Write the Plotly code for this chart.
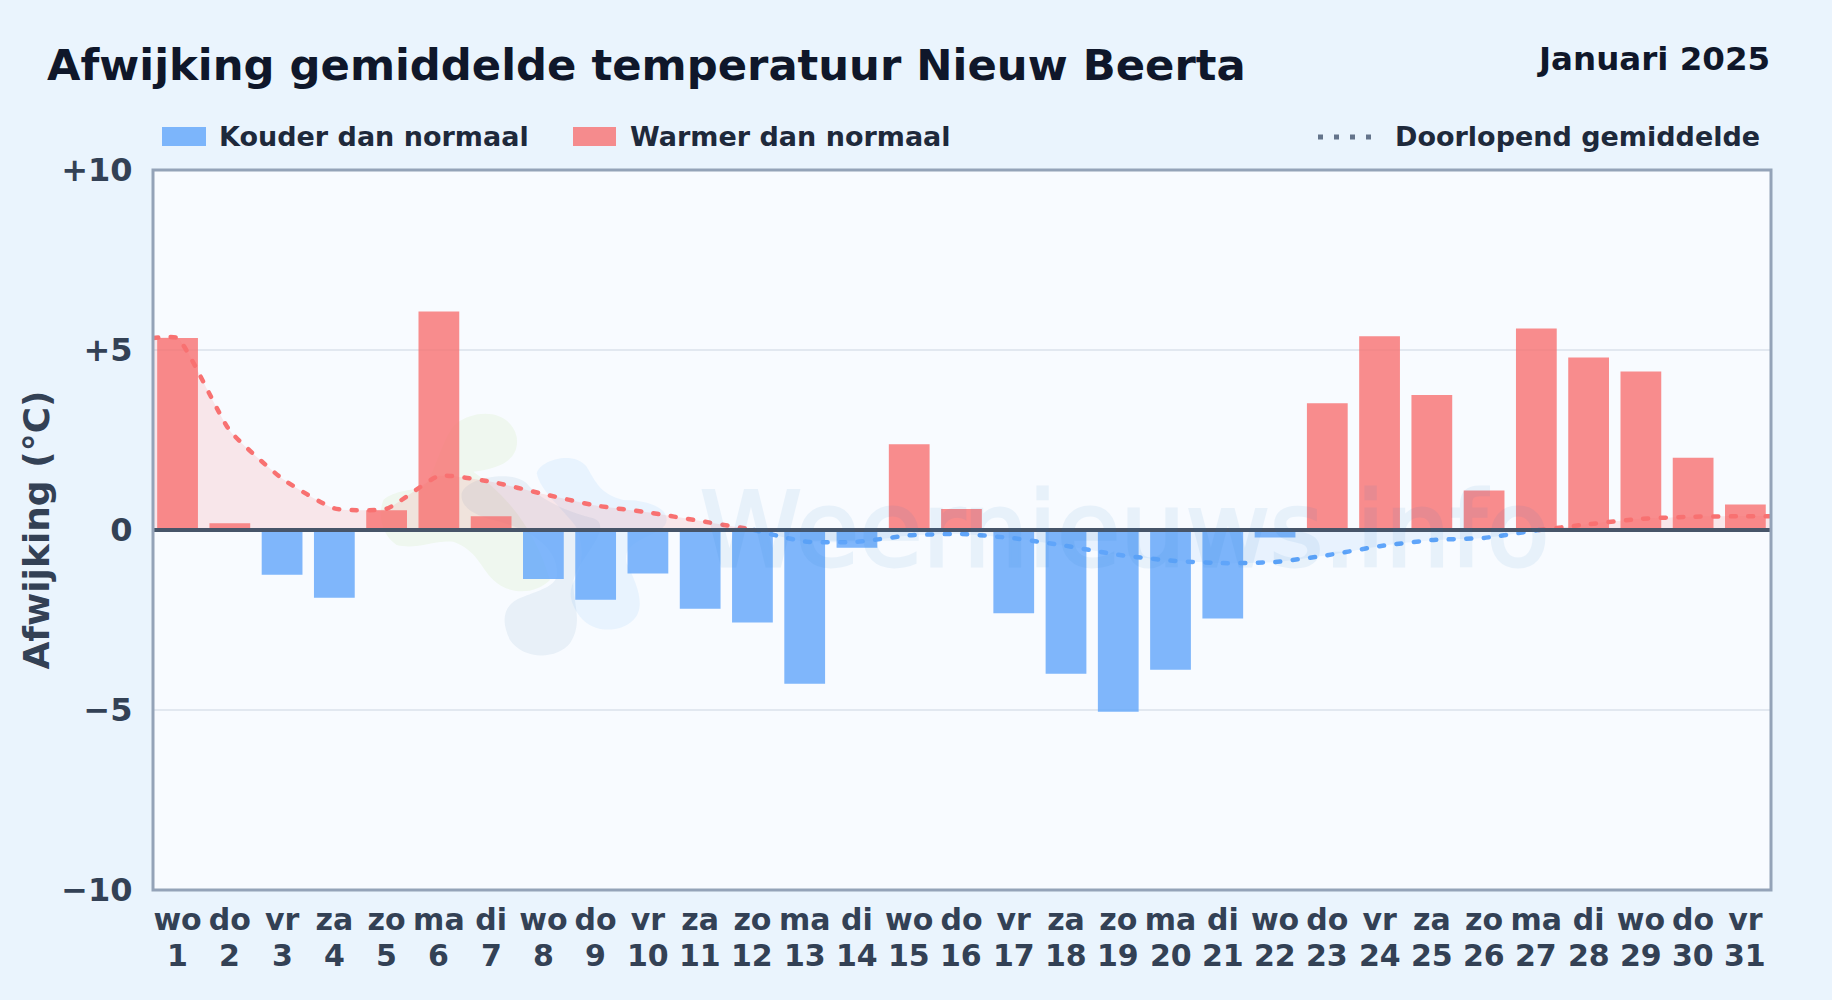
import plotly.graph_objects as go

weekdays = ["wo","do","vr","za","zo","ma","di","wo","do","vr","za","zo","ma","di","wo","do",
            "vr","za","zo","ma","di","wo","do","vr","za","zo","ma","di","wo","do","vr"]
days = list(range(1, 32))
anomaly = [5.33, 0.19, -1.24, -1.88, 0.55, 6.07, 0.38, -1.36, -1.94, -1.21, -2.19, -2.57, -4.27, -0.49,
           2.38, 0.58, -2.31, -3.99, -5.05, -3.88, -2.46, -0.21, 3.52, 5.38, 3.75, 1.10, 5.60, 4.79,
           4.40, 2.01, 0.71]

x_min, x_max = 0.53, 31.49

warm_a_x = [x_min, 1, 2, 3, 4, 5, 6, 7, 8, 9, 10, 11, 12, 12.03]
warm_a_y = [5.33, 5.33, 2.76, 1.43, 0.60, 0.59, 1.50, 1.34, 1.00, 0.68, 0.49, 0.25, 0.01, 0.0]
cold_x = [12.03, 13, 14, 15, 16, 17, 18, 19, 20, 21, 22, 23, 24, 25, 26, 27, 27.05]
cold_y = [0.0, -0.32, -0.33, -0.15, -0.11, -0.23, -0.44, -0.69, -0.85, -0.92, -0.89, -0.70, -0.45,
          -0.28, -0.22, -0.01, 0.0]
warm_b_x = [27.05, 28, 29, 30, 31, x_max]
warm_b_y = [0.0, 0.16, 0.31, 0.37, 0.38, 0.38]

y_ticks = [-10, -5, 0, 5, 10]
y_labels = ["\u221210", "\u22125", "0", "+5", "+10"]

FONT = "DejaVu Sans"
PAPER = "#eaf4fd"
PLOT = "#f8fbff"
INK = "#0f172a"
TEXT = "#1e293b"
AXIS = "#334155"
L, R, T, B = 153, 1771, 170, 890


def px(v):
    return (v - L) / (R - L)


def py(v):
    return (B - v) / (B - T)


colors = ["rgba(248,113,113,0.8)" if v >= 0 else "rgba(96,165,250,0.8)" for v in anomaly]
DASH = "5px,12.5px"
LINE_W = 4.5
SMOOTH = 0.5

fig = go.Figure()
fig.add_bar(x=days, y=anomaly, marker=dict(color=colors, line_width=0), width=0.78, showlegend=False)
fig.add_scatter(x=warm_a_x, y=warm_a_y, mode="lines", fill="tozeroy", fillcolor="rgba(248,113,113,0.15)",
                line=dict(color="#f87171", width=LINE_W, dash=DASH, shape="spline", smoothing=SMOOTH), showlegend=False)
fig.add_scatter(x=cold_x, y=cold_y, mode="lines", fill="tozeroy", fillcolor="rgba(96,165,250,0.10)",
                line=dict(color="#60a5fa", width=LINE_W, dash=DASH, shape="spline", smoothing=SMOOTH), showlegend=False)
fig.add_scatter(x=warm_b_x, y=warm_b_y, mode="lines", fill="tozeroy", fillcolor="rgba(248,113,113,0.15)",
                line=dict(color="#f87171", width=LINE_W, dash=DASH, shape="spline", smoothing=SMOOTH), showlegend=False)


def blob(points):
    s = f"M {px(360 + points[0][0] / 3):.5f},{py(390 + points[0][1] / 3):.5f} "
    for i in range(1, len(points), 3):
        s += "C " + " ".join(f"{px(360 + p[0] / 3):.5f},{py(390 + p[1] / 3):.5f}" for p in points[i:i + 3]) + " "
    return s + "Z"


green = [(290,100),(350,55),(450,60),(470,140),(480,210),(420,235),(340,245),(420,300),(520,400),(570,570),
         (520,620),(440,610),(400,570),(360,530),(350,480),(280,455),(220,450),(170,480),(110,465),(70,440),
         (50,380),(70,330),(100,300),(170,300),(190,290),(220,270),(250,130),(290,100)]
lblue = [(530,250),(540,210),(640,180),(680,230),(710,280),(720,310),(790,330),(860,330),(920,350),(920,390),
         (920,440),(780,440),(800,520),(830,580),(860,650),(820,690),(780,730),(700,730),(660,680),(630,640),
         (620,600),(650,560),(680,500),(660,420),(640,400),(600,350),(540,300),(530,250)]
gray = [(305,310),(320,260),(460,240),(500,280),(530,320),(600,360),(700,385),(770,410),(640,520),(640,580),
        (640,640),(670,700),(630,760),(590,810),(490,810),(450,750),(420,690),(430,640),(490,620),(540,600),
        (580,590),(590,560),(600,480),(520,420),(400,390),(340,375),(300,350),(305,310)]

shapes = [
    dict(type="path", xref="paper", yref="paper", layer="below", path=blob(green), line_width=0,
         fillcolor="rgba(132,204,22,0.07)"),
    dict(type="path", xref="paper", yref="paper", layer="below", path=blob(lblue), line_width=0,
         fillcolor="rgba(96,180,250,0.10)"),
    dict(type="path", xref="paper", yref="paper", layer="below", path=blob(gray), line_width=0,
         fillcolor="rgba(30,100,160,0.07)"),
    dict(type="line", xref="paper", yref="y", x0=0, x1=1, y0=0, y1=0, layer="above",
         line=dict(color="#475569", width=4)),
    dict(type="rect", xref="paper", yref="paper", x0=0, x1=1, y0=0, y1=1, layer="above",
         fillcolor="rgba(0,0,0,0)", line=dict(color="#94a3b8", width=3)),
    dict(type="rect", xref="paper", yref="paper", x0=px(162), x1=px(206), y0=py(146), y1=py(127),
         fillcolor="rgba(96,165,250,0.8)", line_width=0),
    dict(type="rect", xref="paper", yref="paper", x0=px(573), x1=px(616), y0=py(146), y1=py(127),
         fillcolor="rgba(248,113,113,0.8)", line_width=0),
    dict(type="line", xref="paper", yref="paper", x0=px(1318), x1=px(1374), y0=py(137), y1=py(137),
         line=dict(color="#64748b", width=5, dash="5px,11px")),
]


def label(text, x, y, size, color, anchor="left", weight="bold", **kw):
    return dict(text=text, xref="paper", yref="paper", x=px(x), y=py(y), xanchor=anchor, yanchor="middle",
                showarrow=False, font=dict(family=FONT, size=size, color=color, weight=weight), **kw)


annotations = [
    label("Afwijking gemiddelde temperatuur Nieuw Beerta", 45, 65, 43.3, INK),
    label("Januari 2025", 1772, 59, 32.5, INK, "right"),
    label("Kouder dan normaal", 217, 137, 27, TEXT),
    label("Warmer dan normaal", 628, 137, 27, TEXT),
    label("Doorlopend gemiddelde", 1762, 137, 27, TEXT, "right"),
    label("Weernieuws.info", 1124.5, 530, 103, "rgb(20,120,200)", "center", "normal", opacity=0.07),
]
for d in days:
    annotations.append(dict(text=str(d), xref="x", yref="paper", x=d, y=py(955.5), xanchor="center",
                            yanchor="middle", showarrow=False,
                            font=dict(family=FONT, size=30, color=AXIS, weight="bold")))

fig.update_layout(
    width=1832, height=1000, margin=dict(l=L, r=1832 - R, t=T, b=1000 - B, pad=0),
    paper_bgcolor=PAPER, plot_bgcolor=PLOT, bargap=0.22, showlegend=False,
    font=dict(family=FONT, color=AXIS), shapes=shapes, annotations=annotations,
    xaxis=dict(range=[x_min, x_max], tickmode="array", tickvals=days, ticktext=weekdays,
               tickfont=dict(family=FONT, size=30, color=AXIS, weight="bold"), ticks="outside", ticklen=3,
               tickcolor="rgba(0,0,0,0)", showgrid=False, zeroline=False, showline=False,
               tickangle=0, automargin=False),
    yaxis=dict(range=[-10, 10], tickmode="array", tickvals=y_ticks, ticktext=y_labels,
               tickfont=dict(family=FONT, size=32, color=AXIS, weight="bold"), ticks="outside",
               ticklen=13, tickcolor="rgba(0,0,0,0)", showgrid=True, gridcolor="#e2e8f0", gridwidth=2, zeroline=False,
               showline=False, automargin=False,
               title=dict(text="Afwijking (\u00b0C)", standoff=0,
                          font=dict(family=FONT, size=36, color=AXIS, weight="bold"))),
)

post = """
document.documentElement.style.margin='0';document.body.style.margin='0';
document.querySelectorAll('.js-line').forEach(function(p){p.style.strokeLinecap='round';});
document.querySelectorAll('.annotation-text').forEach(function(t){
  if(t.textContent==='Weernieuws.info'){t.style.stroke='rgb(20,120,200)';t.style.strokeWidth='3px';}
});
"""
fig.write_html("out.html", post_script=post, config=dict(displayModeBar=False))
